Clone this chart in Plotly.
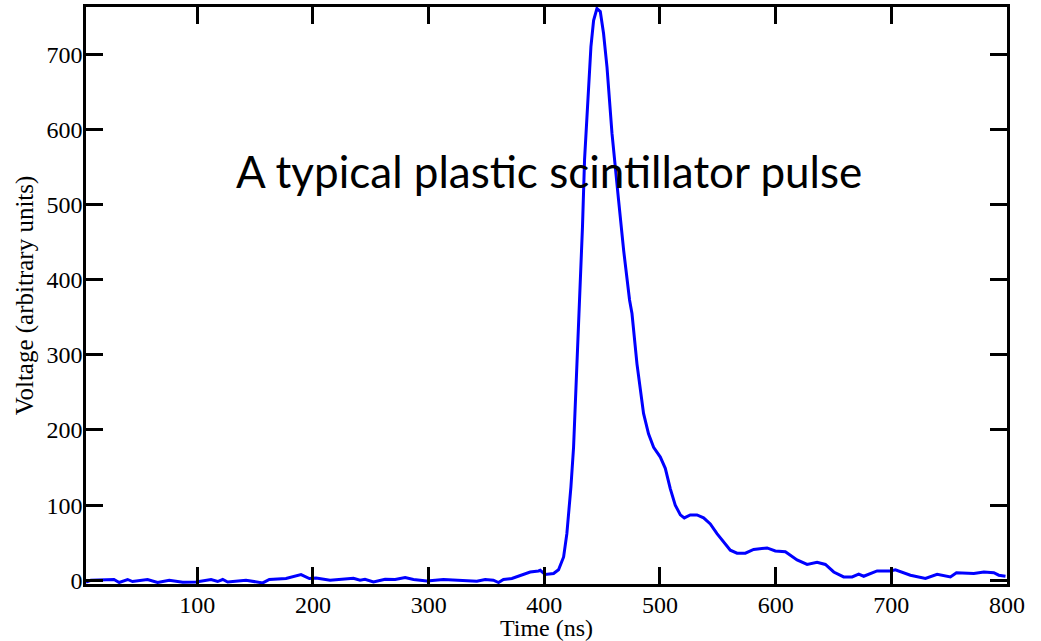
import plotly.graph_objects as go

# Pulse samples (time in ns, voltage in arbitrary units)
time_ns = [
    3.8, 8, 28, 32.5, 39.8, 44, 57, 65.7, 75.8, 87.4, 98.9, 111.9, 117.6, 122, 126.3,
    142.1, 156.6, 162.3, 176.7, 189.7, 196.9, 202.7, 214.8, 235, 240.7, 245, 252.3,
    262.4, 271, 279.7, 286.9, 298.4, 312.8, 327.2, 341.7, 348.9, 356, 360.4, 364.7,
    372, 380.6, 387.8, 395, 396.5, 400.8, 408, 412.3, 416.7, 419.5, 423, 425.3,
    427.6, 429.6, 431.5, 433, 434.8, 438.2, 440.3, 442.6, 445.5, 448.4, 451.2,
    454.2, 458.5, 464.2, 468.6, 473.7, 475.8, 480.1, 483, 485.8, 490.1, 494.5,
    500.3, 504.6, 508.9, 513.2, 517.6, 521, 526.2, 532, 537.7, 543.5, 549.3, 555,
    560.8, 566.6, 573.8, 581, 592.6, 599.7, 608.4, 618.5, 627.2, 635.8, 643, 650.2,
    658.8, 666.1, 671.8, 676.1, 687.7, 699.2, 703.5, 716.5, 729.5, 739.6, 751.1,
    756.3, 771.3, 780, 788.6, 792.9, 798.7,
]
voltage = [
    -2.3, 0, 1, -3, 1, -1.7, 1, -3, 0, -2.7, -2.3, 1, -1.7, 1, -2.3,
    0, -3.6, 1, 2.3, 7.6, 2.3, 3, 0, 2.7, 0, 1.3, -2.3,
    1.3, 1, 3.6, 1, -1, 1, 0, -1.3, 1, 0, -3, 1,
    2.3, 6.7, 11, 12.4, 13.3, 7.6, 9, 14, 31, 62, 124, 177,
    266, 333, 399, 470, 560, 662, 710, 745, 761, 757, 728,
    683, 595, 506, 439, 373, 355, 288, 253, 222, 195, 177,
    164, 149, 122, 100, 87, 83, 87, 87, 83, 75, 62, 51,
    40, 36, 36, 41, 43, 39, 38, 27, 21, 24, 21, 11,
    4.4, 4.4, 8, 5.3, 12.4, 12.4, 14, 6.7, 2.3, 8, 4.4,
    10, 9, 11, 10, 6.7, 5.3,
]

x_ticks = [100, 200, 300, 400, 500, 600, 700, 800]
y_ticks = [0, 100, 200, 300, 400, 500, 600, 700]
x_range = [3.8, 800]
y_range = [-5, 763]

annotation_text = "A typical plastic scintillator pulse"
x_title = "Time (ns)"
y_title = "Voltage (arbitrary units)"

serif = "Liberation Serif, Times New Roman, serif"

fig = go.Figure()
fig.add_trace(go.Scatter(
    x=time_ns, y=voltage, mode="lines",
    line=dict(color="#0000FF", width=3),
    showlegend=False, hoverinfo="skip",
))

axis_common = dict(
    showline=True, linecolor="black", linewidth=2.5, mirror="ticks",
    ticks="inside", ticklen=17, tickwidth=2.5, tickcolor="black",
    showgrid=False, zeroline=False, automargin=False,
    tickfont=dict(family=serif, size=24, color="black"),
)

fig.update_xaxes(
    range=x_range, tickvals=x_ticks, ticktext=[str(v) for v in x_ticks],
    title=dict(text=x_title, font=dict(family=serif, size=24, color="black"), standoff=3),
    ticklabelstandoff=-3,
    **axis_common,
)
fig.update_yaxes(
    range=y_range, tickvals=y_ticks, ticktext=[str(v) for v in y_ticks],
    title=dict(text=y_title, font=dict(family=serif, size=25, color="black"), standoff=6),
    ticklabelstandoff=-4,
    **axis_common,
)

fig.add_annotation(
    x=404, y=545, xref="x", yref="y", text=annotation_text, showarrow=False,
    font=dict(family="Lato, Open Sans, sans-serif", size=44, color="black"),
    xanchor="center", yanchor="middle",
)

fig.update_layout(
    width=1041, height=641, autosize=False,
    margin=dict(l=86, r=34, t=7, b=57, pad=0),
    plot_bgcolor="white", paper_bgcolor="white",
)

fig.write_html("out.html")
